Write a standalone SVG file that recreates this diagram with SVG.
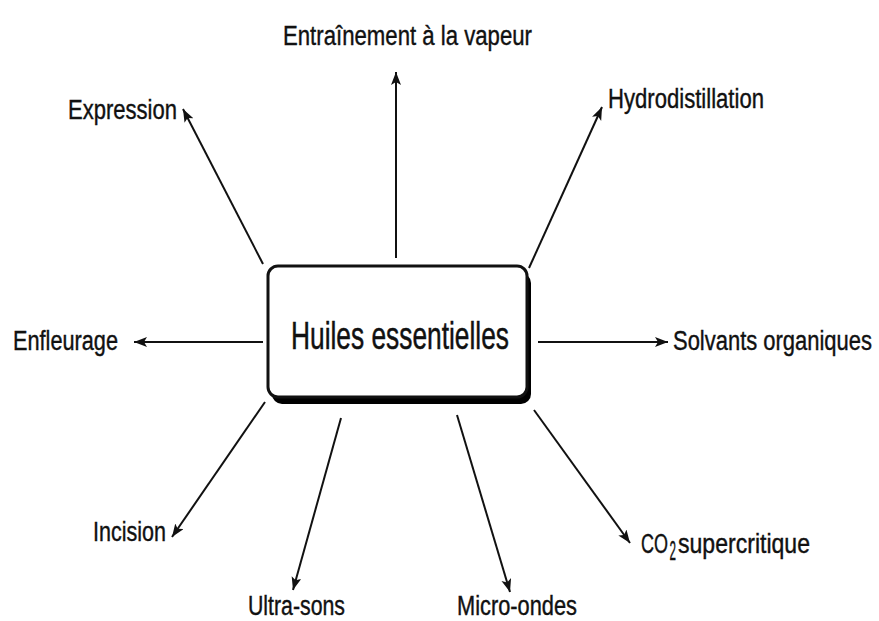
<svg xmlns="http://www.w3.org/2000/svg" width="879" height="621" viewBox="0 0 879 621">
<style>
.lbl{font-family:"Liberation Sans",Arial,sans-serif;font-size:27px;fill:#111;stroke:#111;stroke-width:0.4;}
.ctr{font-family:"Liberation Sans",Arial,sans-serif;font-size:39px;fill:#111;stroke:#111;stroke-width:0.5;}
.conn{stroke:#111;stroke-width:2;fill:none;marker-end:url(#ah);}
</style>
<defs>
<marker id="ah" markerUnits="userSpaceOnUse" markerWidth="16" markerHeight="12" refX="13" refY="5" orient="auto">
<path d="M0,0 L13,5 L0,10 L3,5 Z" fill="#111"/>
</marker>
</defs>
<rect width="879" height="621" fill="#fff"/>
<g id="center">
<rect x="272" y="273" width="259" height="131" rx="10" fill="#000"/>
<rect x="268" y="266" width="259" height="131" rx="10" fill="#fff" stroke="#111" stroke-width="3"/>
<text class="ctr" x="291" y="349" textLength="218" lengthAdjust="spacingAndGlyphs">Huiles essentielles</text>
</g>
<g id="connectors">
<line class="conn" x1="396" y1="258" x2="396" y2="72"/>
<line class="conn" x1="263" y1="264" x2="183" y2="109"/>
<line class="conn" x1="529" y1="268" x2="602" y2="107"/>
<line class="conn" x1="263" y1="342" x2="134" y2="342"/>
<line class="conn" x1="538" y1="342" x2="668" y2="342"/>
<line class="conn" x1="265" y1="402" x2="172" y2="537"/>
<line class="conn" x1="341" y1="418" x2="293" y2="590"/>
<line class="conn" x1="457" y1="415" x2="510" y2="592"/>
<line class="conn" x1="534" y1="410" x2="630" y2="543"/>
</g>
<g id="n-vapeur"><text class="lbl" x="283" y="45" textLength="249" lengthAdjust="spacingAndGlyphs">Entraînement à la vapeur</text></g>
<g id="n-expression"><text class="lbl" x="68" y="119" textLength="109" lengthAdjust="spacingAndGlyphs">Expression</text></g>
<g id="n-hydro"><text class="lbl" x="608" y="108" textLength="156" lengthAdjust="spacingAndGlyphs">Hydrodistillation</text></g>
<g id="n-enfleurage"><text class="lbl" x="13" y="350" textLength="105" lengthAdjust="spacingAndGlyphs">Enfleurage</text></g>
<g id="n-solvants"><text class="lbl" x="673" y="350" textLength="199" lengthAdjust="spacingAndGlyphs">Solvants organiques</text></g>
<g id="n-incision"><text class="lbl" x="93" y="541" textLength="73" lengthAdjust="spacingAndGlyphs">Incision</text></g>
<g id="n-ultrasons"><text class="lbl" x="248" y="615" textLength="97" lengthAdjust="spacingAndGlyphs">Ultra-sons</text></g>
<g id="n-microondes"><text class="lbl" x="457" y="615" textLength="120" lengthAdjust="spacingAndGlyphs">Micro-ondes</text></g>
<g id="n-co2">
<text class="lbl" x="641" y="553" textLength="27" lengthAdjust="spacingAndGlyphs">CO</text>
<text class="lbl" x="669.5" y="560" font-size="17" textLength="6.5" lengthAdjust="spacingAndGlyphs">2</text>
<text class="lbl" x="678" y="553" textLength="132" lengthAdjust="spacingAndGlyphs">supercritique</text>
</g>
</svg>
